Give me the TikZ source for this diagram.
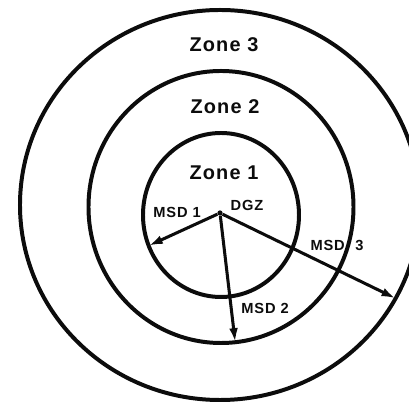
\documentclass[tikz,border=0pt]{standalone}
\usepackage{fontspec}
\setmainfont{Liberation Sans}
\newfontfamily\labelfont[LetterSpace=6]{Liberation Sans Bold}
\usepackage{tikz}
\usetikzlibrary{shapes.geometric, arrows.meta, positioning, calc}
\definecolor{ink}{RGB}{12,12,12}
\tikzset{
  zone/.style={ellipse, draw=ink, line width=3.4pt, inner sep=0pt, outer sep=0pt},
  zonelabel/.style={font=\labelfont\fontsize{17}{19}\selectfont, inner sep=0pt, text=ink},
  msdlabel/.style={font=\labelfont\fontsize{12.5}{14}\selectfont, inner sep=0pt, text=ink},
  arrow/.style={-{Latex[length=12pt, width=7.5pt]}, line width=2.6pt, color=ink}
}
\begin{document}
\begin{tikzpicture}[x=0.03cm, y=-0.03cm]
\useasboundingbox (0,0) rectangle (409,405);
\clip (0,0) rectangle (409,405);

% Zone rings
\node[zone, minimum width=12cm, minimum height=11.7cm] (zone3) at (220,205) {};
\node[zone, minimum width=7.95cm, minimum height=8.16cm] (zone2) at (221,207) {};
\node[zone, minimum width=4.68cm, minimum height=4.92cm] (zone1) at (221,215) {};

% Zone names
\node[zonelabel] (z3) at (224,45) {Zone 3};
\node[zonelabel] (z2) at (225,107) {Zone 2};
\node[zonelabel] (z1) at (224,173) {Zone 1};

% Ground zero and distances
\node[circle, fill=ink, inner sep=0pt, minimum size=4.5pt] (dgz) at (220,213) {};
\node[msdlabel] (dgzlbl) at (247,205.5) {DGZ};
\draw[arrow] (dgz) -- (zone1.203);
\draw[arrow] (dgz) -- (zone2.276);
\draw[arrow] (dgz) -- (zone3.332);
\node[msdlabel] (msd1) at (177,212.5) {MSD 1};
\node[msdlabel] (msd2) at (265,308) {MSD 2};
\node[msdlabel] (msd3) at (337,245) {MSD\hspace{9pt}3};
\end{tikzpicture}
\end{document}
